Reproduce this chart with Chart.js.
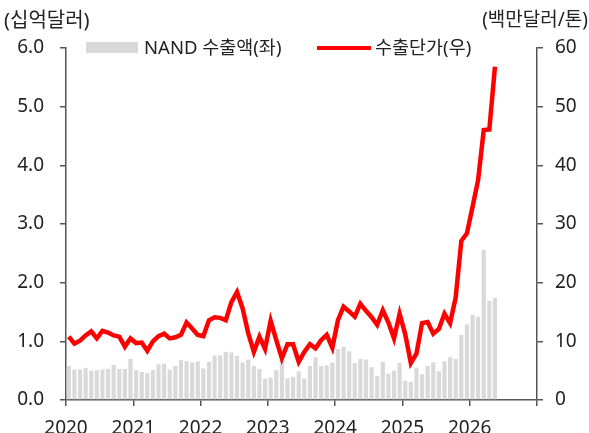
<!DOCTYPE html>
<html lang="ko">
<head>
<meta charset="utf-8">
<script src="https://cdn.jsdelivr.net/npm/chart.js@4.4.1/dist/chart.umd.min.js"></script>
<style>
    html, body { margin: 0; padding: 0; background: #fff; }
    #wrap { width: 589px; height: 433px; position: relative; }
</style>
</head>
<body>
<div id="wrap"><canvas id="nandChart"></canvas></div>
<script>
// ---------------- DATA ----------------
const startYear = 2020;
const yearTicks = [2020, 2021, 2022, 2023, 2024, 2025, 2026, 2027];

// NAND 수출액 (십억달러), monthly from 2020-01
const exportValue = [
    0.58, 0.52, 0.52, 0.55, 0.50, 0.51, 0.52, 0.53, 0.60, 0.53, 0.53, 0.70,
    0.51, 0.48, 0.46, 0.51, 0.61, 0.62, 0.52, 0.58, 0.68, 0.66, 0.64, 0.66,
    0.54, 0.65, 0.76, 0.76, 0.82, 0.81, 0.75, 0.64, 0.69, 0.58, 0.53, 0.36,
    0.38, 0.51, 0.66, 0.37, 0.39, 0.49, 0.37, 0.58, 0.73, 0.58, 0.59, 0.64,
    0.87, 0.91, 0.83, 0.63, 0.70, 0.69, 0.56, 0.41, 0.65, 0.45, 0.50, 0.63,
    0.33, 0.31, 0.55, 0.44, 0.58, 0.64, 0.49, 0.66, 0.73, 0.70, 1.11, 1.29,
    1.45, 1.42, 2.56, 1.69, 1.74
];

// 수출단가 (백만달러/톤)
const unitPrice = [
    10.8, 9.6, 10.1, 11.0, 11.7, 10.5, 11.8, 11.5, 11.0, 10.8, 9.1, 10.5,
    9.7, 9.8, 8.4, 10.0, 10.9, 11.3, 10.5, 10.7, 11.1, 13.2, 12.2, 11.1,
    10.9, 13.6, 14.1, 14.0, 13.6, 16.7, 18.4, 15.6, 11.4, 8.2, 10.8, 8.7,
    13.5, 10.2, 7.1, 9.5, 9.5, 6.5, 8.2, 9.5, 8.8, 10.2, 11.1, 8.9,
    13.6, 15.9, 15.1, 14.2, 16.4, 15.2, 14.1, 12.8, 15.3, 13.2, 10.5, 14.7,
    11.2, 6.3, 7.9, 13.1, 13.3, 11.3, 12.1, 14.7, 13.1, 17.5, 27.1, 28.4,
    32.9, 37.5, 46.0, 46.1, 56.8
];

const leftTicks = [0, 1, 2, 3, 4, 5, 6];
const rightTicks = [0, 10, 20, 30, 40, 50, 60];

const seriesNames = ["NAND 수출액(좌)", "수출단가(우)"];
const axisTitles = ["(십억달러)", "(백만달러/톤)"];

// ---------------- STYLE ----------------
const FONT = "'Noto Sans', 'Noto Sans CJK KR', sans-serif";
const TEXT_COLOR = "#222";
const AXIS_COLOR = "#555";
const BAR_COLOR = "#d9d9d9";
const LINE_COLOR = "#ff0000";

// month index -> point in middle of month
const toPoints = arr => arr.map((v, i) => ({ x: i + 0.5, y: v }));

// ---------------- OVERLAY (titles + legend) ----------------
const overlayPlugin = {
    id: "overlay",
    afterDraw(chart) {
        const ctx = chart.ctx;
        ctx.save();
        ctx.fillStyle = TEXT_COLOR;
        ctx.textBaseline = "middle";

        // axis titles
        ctx.font = "20px " + FONT;
        ctx.textAlign = "left";
        ctx.fillText(axisTitles[0], 4, 21);
        ctx.font = "19px " + FONT;
        ctx.textAlign = "right";
        ctx.fillText(axisTitles[1], 588, 21);

        // legend - bars
        ctx.font = "18.5px " + FONT;
        ctx.fillStyle = BAR_COLOR;
        ctx.fillRect(86, 42, 52, 11);
        ctx.fillStyle = TEXT_COLOR;
        ctx.textAlign = "left";
        ctx.fillText(seriesNames[0], 144, 49);

        // legend - line
        ctx.strokeStyle = LINE_COLOR;
        ctx.lineWidth = 4;
        ctx.beginPath();
        ctx.moveTo(317, 48);
        ctx.lineTo(371, 48);
        ctx.stroke();
        ctx.fillText(seriesNames[1], 375, 49);

        ctx.restore();
    }
};

// ---------------- CHART ----------------
const tickFont = { family: FONT, size: 19 };

new Chart(document.getElementById("nandChart"), {
    type: "bar",
    data: {
        datasets: [
            {
                type: "line",
                label: seriesNames[1],
                data: toPoints(unitPrice),
                yAxisID: "yRight",
                borderColor: LINE_COLOR,
                borderWidth: 4.5,
                pointRadius: 0,
                tension: 0,
                order: 1
            },
            {
                type: "bar",
                label: seriesNames[0],
                data: toPoints(exportValue),
                yAxisID: "yLeft",
                backgroundColor: BAR_COLOR,
                barPercentage: 0.75,
                categoryPercentage: 1,
                order: 2
            }
        ]
    },
    options: {
        responsive: true,
        maintainAspectRatio: false,
        animation: false,
        layout: { padding: { top: 48, left: 0, right: 0, bottom: 0 } },
        plugins: {
            legend: { display: false },
            tooltip: { enabled: false }
        },
        scales: {
            x: {
                type: "linear",
                offset: false,
                min: 0,
                max: (yearTicks.length - 1) * 12,
                afterBuildTicks: axis => {
                    axis.ticks = yearTicks.map(y => ({ value: (y - startYear) * 12 }));
                },
                afterFit: axis => { axis.height = 33; },
                ticks: {
                    color: TEXT_COLOR,
                    font: tickFont,
                    padding: 11,
                    maxRotation: 0,
                    autoSkip: false,
                    callback: v => {
                        const yr = startYear + v / 12;
                        return yr === yearTicks[yearTicks.length - 1] ? "" : String(yr);
                    }
                },
                grid: { offset: false, drawOnChartArea: false, color: AXIS_COLOR, tickLength: 6, lineWidth: 1.5 },
                border: { color: AXIS_COLOR, width: 1.5 }
            },
            yLeft: {
                position: "left",
                min: 0,
                max: 6,
                afterBuildTicks: axis => {
                    axis.ticks = leftTicks.map(v => ({ value: v }));
                },
                afterFit: axis => { axis.width = 66; },
                ticks: {
                    color: TEXT_COLOR,
                    font: tickFont,
                    padding: 16,
                    callback: v => v.toFixed(1)
                },
                grid: { drawOnChartArea: false, color: AXIS_COLOR, tickLength: 6, lineWidth: 1.5 },
                border: { color: AXIS_COLOR, width: 1.5 }
            },
            yRight: {
                position: "right",
                min: 0,
                max: 60,
                afterBuildTicks: axis => {
                    axis.ticks = rightTicks.map(v => ({ value: v }));
                },
                afterFit: axis => { axis.width = 52; },
                ticks: {
                    color: TEXT_COLOR,
                    font: tickFont,
                    padding: 12
                },
                grid: { drawOnChartArea: false, color: AXIS_COLOR, tickLength: 6, lineWidth: 1.5 },
                border: { color: AXIS_COLOR, width: 1.5 }
            }
        }
    },
    plugins: [overlayPlugin]
});
</script>
</body>
</html>
